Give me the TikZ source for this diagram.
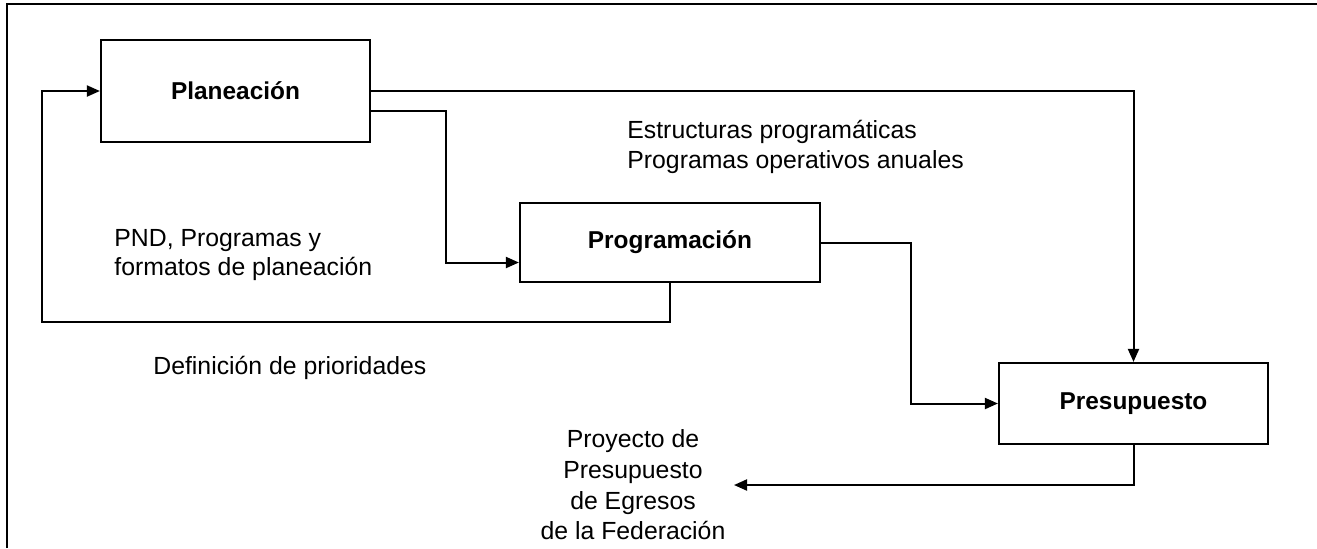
\documentclass[tikz,border=0pt]{standalone}
\usepackage{fontspec}
\setmainfont{Liberation Sans}
\usetikzlibrary{arrows.meta}

\begin{document}
\begin{tikzpicture}[x=0.5pt, y=-0.5pt,
    caja/.style={draw, line width=1.1pt, inner sep=0pt,
      font=\bfseries\fontsize{12.2}{14}\selectfont},
    texto/.style={inner sep=0pt, font=\fontsize{12.4}{14.6}\selectfont},
    linea/.style={line width=1pt},
    flecha/.style={line width=1pt, -{Triangle[length=6.5pt, width=5.5pt]}}]

    % 0. Page size and the frame
    \useasboundingbox (0,0) rectangle (1317,548);
    \draw[line width=1.1pt] (7,548) -- (7,4) -- (1317,4);

    % 1. The three boxes
    \node[caja, minimum width=134.5pt, minimum height=51pt] (plan) at (235.5,91) {Planeación};
    \node[caja, minimum width=150pt, minimum height=39.5pt] (prog) at (670,242.5) {Programación};
    \node[caja, minimum width=134.5pt, minimum height=40.5pt] (pres) at (1133.5,403.5) {Presupuesto};

    % 2. Texts beside the connectors
    \node[texto, anchor=west, align=left] (estruct) at (627,147)
        {Estructuras programáticas\\Programas operativos anuales};
    \node[texto, anchor=west, align=left] (pnd) at (114,255)
        {PND, Programas y\\formatos de planeación};
    \node[texto, anchor=west] (prior) at (153,368) {Definición de prioridades};
    \node[texto, align=center, font=\fontsize{12.4}{15.3}\selectfont] (proyecto) at (633,485)
        {Proyecto de\\Presupuesto\\de Egresos\\de la Federación};
    \coordinate (salida) at (734,485);

    % 3. Connectors
    \draw[flecha] (plan.east) -| (pres.north);                      % Planeacion -> Presupuesto
    \draw[flecha] ([yshift=-10pt]plan.east) -- (446,111)
        |- ([yshift=-10pt]prog.west);                                % Planeacion -> Programacion
    \draw[flecha] (prog.east) -- (911,242.5) |- (pres.west);        % Programacion -> Presupuesto
    \draw[flecha] (prog.south) |- (42,322) |- (plan.west);          % back to Planeacion
    \draw[flecha] (pres.south) |- (salida);                         % Proyecto de presupuesto

\end{tikzpicture}
\end{document}
